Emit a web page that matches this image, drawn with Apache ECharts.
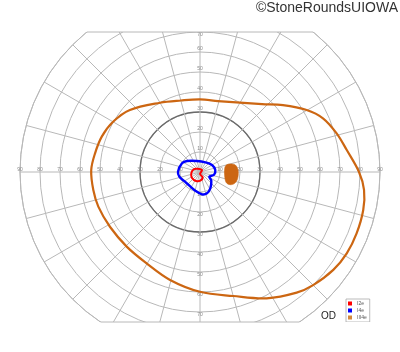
<!DOCTYPE html>
<html><head><meta charset="utf-8">
<script src="https://cdn.jsdelivr.net/npm/echarts@6/dist/echarts.min.js"></script>
<style>html,body{margin:0;padding:0;background:#fff}#c{width:400px;height:352px}</style>
</head><body><div id="c"></div>
<script>
// Isopter names and colours
const seriesNames = ['I2e', 'I4e', 'III4e'];
const seriesColors = ['#ff0000', '#0000ff', '#cc6612'];
const legendColors = ['#ff0000', '#0000ff', '#d4883c'];

// Points as [meridian angle (deg, counter-clockwise from right), eccentricity (deg)]
const i2e = [[129,2.13],[45,1.41],[270,1.0],[297,2.97],[272,4.35],[246,4.92],[217,5.0],[188.5,4.4],[157,3.43]];
const i4e = [[179.2,11.0],[154.2,10.0],[139.8,8.5],[105.3,5.7],[61.3,5.53],[30.3,6.95],[7.4,7.7],[349.1,7.13],[333.2,5.2],[322.4,7.13],[302.3,9.64],[288.2,11.2],[275.1,11.2],[256,9.64],[229,8.6],[208.1,9.24],[192.8,10.6]];
const iii4e = [[0,79.5],[8.5,74.2],[15.8,71.0],[23.6,67.1],[30.2,61.7],[38.9,53.3],[47.6,46.0],[60,40.0],[75.8,36.6],[90,36.3],[104.9,37.0],[120,40.0],[138.5,46.8],[150,50.2],[160.2,52.2],[169.9,53.3],[179,54.4],[189.6,54.1],[198.8,53.7],[211.3,52.7],[225.5,52.3],[239.7,52.9],[254.5,56.0],[270,59.9],[285,64.2],[297.8,71.4],[308.7,77.3],[315,80.0],[323.7,82.7],[331,83.9],[338.6,84.1],[346.9,83.8],[353.8,82.5]];
const iii4eBlindSpot = [[14.8,15.67],[11.2,18.0],[3.0,19.03],[350.5,19.1],[342,18.25],[337.3,16.4],[337.9,14.2],[350.8,12.5],[8.5,12.5],[14.9,13.6]];

// Axis settings
const maxEcc = 90;          // horizontal extent
const maxEccVertical = 70;  // labelled vertical extent
const ringStep = 10;
const meridianStep = 15;
const boldRing = 30;
const clipTop = 70, clipBottom = 75; // frame edges (deg above / below fixation)

const chart = echarts.init(document.getElementById('c'));
const gridColor = '#b8b8b8';
const labelStyle = {fontSize: 5, color: '#8a8a8a', fontFamily: 'Liberation Sans', margin: 0, align: 'center', verticalAlign: 'middle', lineHeight: 5};

function contour(name, pts, color, width, filled) {
  return {
    type: 'custom', name: name, coordinateSystem: 'polar', polarIndex: 0,
    data: pts.map(p => [p[1], p[0]]),
    itemStyle: {color: color},
    silent: true,
    renderItem: function (params, api) {
      if (params.dataIndex !== 0) return;
      const points = pts.map(p => api.coord([p[1], p[0]]));
      return {
        type: 'polygon',
        shape: {points: points, smooth: 0.35},
        style: filled ? {fill: color, stroke: color, lineWidth: 0.6} : {fill: 'none', stroke: color, lineWidth: width}
      };
    }
  };
}

const ringColorsBold = [];
for (let v = 0; v <= maxEcc; v += ringStep) ringColorsBold.push(v === boldRing ? '#6a6a6a' : 'rgba(0,0,0,0)');

const hiddenAngle = (idx, start) => ({polarIndex: idx, startAngle: start, clockwise: false, min: 0, max: 360, axisLine: {show: false}, axisTick: {show: false}, axisLabel: {show: false}, splitLine: {show: false}});

chart.setOption({
  animation: false,
  polar: [
    {center: [200, 172], radius: 180},
    {center: [200, 172], radius: 180},
    {center: [200, 172], radius: 140},
    {center: [200, 172], radius: 140}
  ],
  angleAxis: [
    {polarIndex: 0, startAngle: 0, clockwise: false, min: 0, max: 360, interval: meridianStep,
     axisLine: {show: true, lineStyle: {color: gridColor, width: 1}}, axisTick: {show: false}, axisLabel: {show: false},
     splitLine: {show: true, lineStyle: {color: gridColor, width: 1}}},
    hiddenAngle(1, 180), hiddenAngle(2, 90), hiddenAngle(3, 270)
  ],
  radiusAxis: [
    {polarIndex: 0, min: 0, max: maxEcc, interval: ringStep, axisLine: {show: false}, axisTick: {show: false},
     splitLine: {show: true, lineStyle: {color: gridColor, width: 1}},
     axisLabel: Object.assign({}, labelStyle, {formatter: v => v === 0 ? '' : v + '\n'})},
    {polarIndex: 1, min: 0, max: maxEcc, interval: ringStep, axisLine: {show: false}, axisTick: {show: false},
     splitLine: {show: true, lineStyle: {color: ringColorsBold, width: 1.3}},
     axisLabel: Object.assign({}, labelStyle, {formatter: v => v === 0 ? '' : v + '\n'})},
    {polarIndex: 2, min: 0, max: maxEccVertical, interval: ringStep, axisLine: {show: false}, axisTick: {show: false},
     splitLine: {show: false},
     axisLabel: Object.assign({}, labelStyle, {lineHeight: 6, formatter: v => v === 0 ? '' : (v === maxEccVertical ? '\n' + v : v + '\n')})},
    {polarIndex: 3, min: 0, max: maxEccVertical, interval: ringStep, axisLine: {show: false}, axisTick: {show: false},
     splitLine: {show: false},
     axisLabel: Object.assign({}, labelStyle, {lineHeight: 5, formatter: v => v === 0 ? '' : '\n' + v})}
  ],
  legend: {
    data: seriesNames.map((n, i) => ({name: n, itemStyle: {color: legendColors[i]}})),
    orient: 'vertical', left: 346, top: 299, icon: 'rect',
    itemWidth: 4, itemHeight: 4, itemGap: 2, padding: [2, 3, 2, 2],
    borderColor: '#aaaaaa', borderWidth: 0.8, backgroundColor: '#fff',
    textStyle: {fontSize: 5, color: '#555', fontFamily: 'Liberation Sans'},
    selectedMode: false
  },
  series: [
    contour(seriesNames[2], iii4e, seriesColors[2], 2.2, false),
    contour(seriesNames[2], iii4eBlindSpot, seriesColors[2], 1, true),
    contour(seriesNames[1], i4e, seriesColors[1], 2.4, false),
    contour(seriesNames[0], i2e, seriesColors[0], 2, false)
  ]
});

// Rectangular frame clipping the field chart
const c = chart.convertToPixel({polarIndex: 0}, [0, 0]);
const edge = chart.convertToPixel({polarIndex: 0}, [maxEcc, 0]);
const R = edge[0] - c[0];
const yTop = chart.convertToPixel({polarIndex: 0}, [clipTop, 90])[1];
const yBot = chart.convertToPixel({polarIndex: 0}, [clipBottom, 270])[1];
const hTop = Math.sqrt(R * R - (c[1] - yTop) * (c[1] - yTop));
const hBot = Math.sqrt(R * R - (yBot - c[1]) * (yBot - c[1]));
chart.setOption({
  graphic: [
    {type: 'rect', z: 100, silent: true, shape: {x: 0, y: 0, width: 400, height: yTop}, style: {fill: '#fff'}},
    {type: 'rect', z: 100, silent: true, shape: {x: 0, y: yBot, width: 400, height: 352 - yBot}, style: {fill: '#fff'}},
    {type: 'line', z: 101, silent: true, shape: {x1: c[0] - hTop, y1: yTop, x2: c[0] + hTop, y2: yTop}, style: {stroke: gridColor, lineWidth: 1}},
    {type: 'line', z: 101, silent: true, shape: {x1: c[0] - hBot, y1: yBot, x2: c[0] + hBot, y2: yBot}, style: {stroke: gridColor, lineWidth: 1}},
    {type: 'text', z: 102, right: 2, top: 1, style: {text: '©StoneRoundsUIOWA', font: '14px "Liberation Sans", Arial, sans-serif', fill: '#333'}},
    {type: 'text', z: 102, left: 321, top: 311, style: {text: 'OD', font: '10px "Liberation Sans", Arial, sans-serif', fill: '#222'}}
  ]
});
</script>
</body></html>
